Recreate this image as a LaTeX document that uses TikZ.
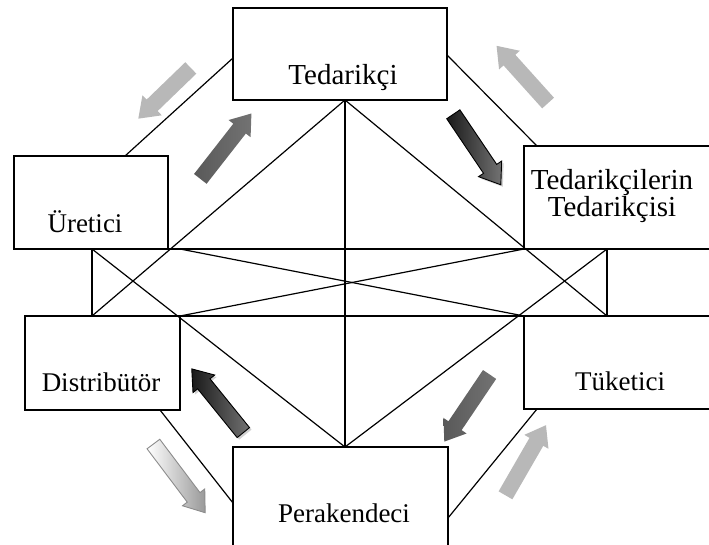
\documentclass[tikz,border=0pt]{standalone}
\usepackage{fontspec}
\setmainfont{Liberation Serif}
\usetikzlibrary{shapes.arrows,shadows}

\begin{document}
\begin{tikzpicture}[x=1pt,y=-1pt,
  line width=1.2pt,
  box/.style={draw, rectangle, outer sep=0pt, inner sep=0pt, anchor=north west},
  lbl/.style={anchor=base, inner sep=0pt, font=\fontsize{27}{27}\selectfont},
  biglbl/.style={inner sep=0pt, align=center, font=\fontsize{29}{24}\selectfont},
  blockarrow/.style={single arrow, draw=none, inner xsep=0pt, inner ysep=7.5pt,
    single arrow head extend=6pt, single arrow tip angle=72,
    minimum height=#1, line width=0.9pt},
  lightarrow/.style={blockarrow=#1, fill=black!28},
  darkarrow/.style={blockarrow=#1, left color=black!65, middle color=black, right color=black!55},
  framedarrow/.style={blockarrow=#1, draw=black, left color=black!90, right color=black!55,
    drop shadow={shadow xshift=2pt, shadow yshift=-2pt, fill=black!35}},
  palearrow/.style={blockarrow=#1, draw=black!45, left color=white, right color=black!40}
]
\useasboundingbox (0,0) rectangle (709,545);

% the six stations of the chain
\node[box, minimum width=214pt, minimum height=92pt]  (ted) at (233,8)   {};
\node[box, minimum width=154pt, minimum height=93pt]  (ure) at (14,156)  {};
\node[box, minimum width=200pt, minimum height=103pt] (tt)  at (524,146) {};
\node[box, minimum width=155pt, minimum height=94pt]  (dis) at (25,316)  {};
\node[box, minimum width=215pt, minimum height=110pt] (per) at (233,447) {};
\node[box, minimum width=200pt, minimum height=93pt]  (tuk) at (524,316) {};

\node[lbl, font=\fontsize{29}{29}\selectfont] (ted-t) at (343,85) {Tedarikçi};
\node[lbl] (ure-t) at (85,233)  {Üretici};
\node[biglbl] (tt-t) at (612,196) {Tedarikçilerin\\Tedarikçisi};
\node[lbl] (dis-t) at (101,391) {Distribütör};
\node[lbl] (tuk-t) at (620,390) {Tüketici};
\node[lbl] (per-t) at (344,522) {Perakendeci};

% attachment points of the network lines
\coordinate (top) at (345,100);
\coordinate (bot) at (345,447);
\coordinate (a1) at (92,249);
\coordinate (a2) at (92,316);
\coordinate (b1) at (607,249);
\coordinate (b2) at (607,316);
\coordinate (c1) at (180,249);
\coordinate (tedW) at (233,58);
\coordinate (ureN) at (125,156);
\coordinate (tedE) at (447,55);
\coordinate (ttN)  at (537,146);
\coordinate (disS) at (160,410);
\coordinate (perW) at (233,503);
\coordinate (perE) at (448,518);
\coordinate (tukS) at (537,409);

% outer ring
\draw (tedW) -- (ureN);
\draw (tedE) -- (ttN);
\draw (disS) -- (perW);
\draw (perE) -- (tukS);

% inner web
\draw (top) -- (bot);
\draw (top) -- (a2);
\draw (top) -- (b2);
\draw (bot) -- (a1);
\draw (bot) -- (b1);
\draw (a1) -- (a2);
\draw (b1) -- (b2);
\draw (ure.south east) -- (tt.south west);
\draw (dis.north east) -- (tuk.north west);
\draw (c1) -- (tuk.north west);
\draw (dis.north east) -- (tt.south west);

% flow arrows
\node[lightarrow=73pt, rotate=224]  (f1) at (168.5,89.5) {};
\node[darkarrow=83pt, rotate=52]    (f2) at (222.5,150.5) {};
\node[lightarrow=77pt, rotate=132]  (f3) at (526,78.5) {};
\node[framedarrow=85pt, rotate=-56] (f4) at (474,145) {};
\node[palearrow=86pt, rotate=-53]   (f5) at (176,474) {};
\node[framedarrow=82pt, rotate=129] (f6) at (221,405) {};
\node[darkarrow=81pt, rotate=236]   (f7) at (470,403.5) {};
\node[lightarrow=81pt, rotate=60]   (f8) at (523,465) {};
\end{tikzpicture}
\end{document}
